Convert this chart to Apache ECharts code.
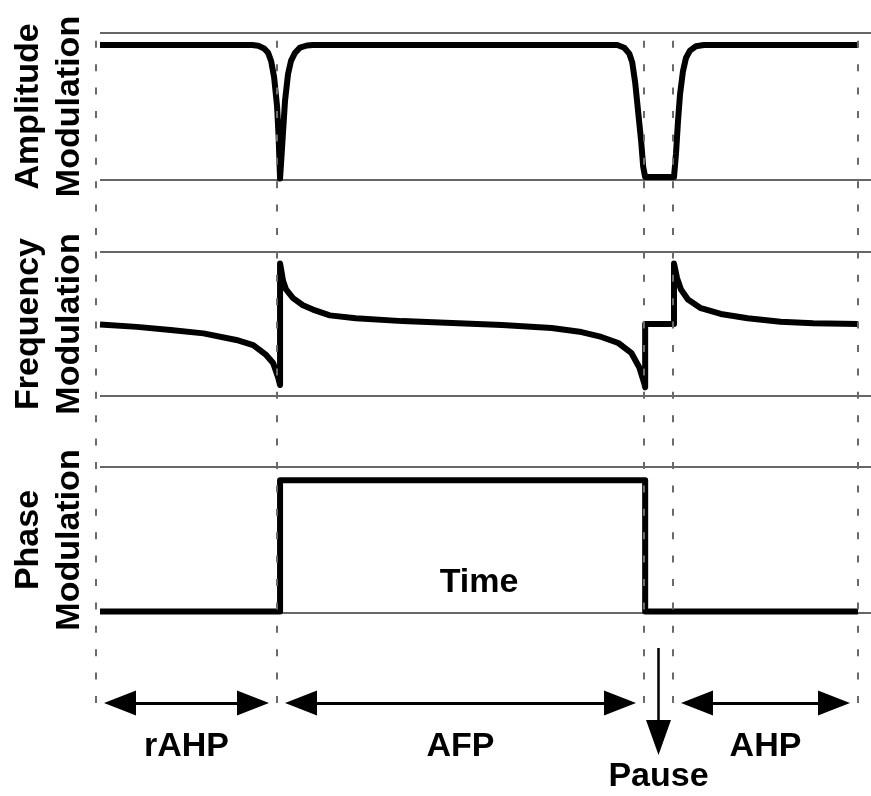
<!DOCTYPE html>
<html>
<head>
<meta charset="utf-8">
<script src="https://cdn.jsdelivr.net/npm/echarts@6/dist/echarts.min.js"></script>
<style>
html,body{margin:0;padding:0;background:#fff;}
#chart{width:871px;height:796px;}
</style>
</head>
<body>
<div id="chart"></div>
<script>
// ---- data (time in arbitrary units, modulation normalized 0..1) ----
const timeMax = 775;
const eventTimes = [0, 181, 548, 577, 762];
const panelNames = ['Amplitude\nModulation', 'Frequency\nModulation', 'Phase\nModulation'];
const timeTitle = 'Time';

const amplitude = [
  [0,0.918],[153,0.918],[159,0.913],[165,0.895],[169,0.865],[172,0.81],[175,0.70],[178,0.50],[179.5,0.30],[181,0.01],
  [183,0.22],[186,0.54],[189,0.72],[192,0.81],[196,0.865],[201,0.90],[208,0.915],[214,0.918],
  [520,0.918],[527,0.90],[532,0.86],[535,0.80],[538,0.66],[541,0.46],[544,0.26],[546,0.09],[548,0.02],
  [577,0.02],[579,0.18],[581,0.40],[583,0.58],[586,0.74],[589,0.83],[593,0.88],[599,0.91],[607,0.918],[762,0.918]
];

const frequency = [
  [0,0.497],[37,0.48],[71,0.458],[104,0.435],[137,0.389],[154,0.354],[167,0.285],[174,0.229],[179,0.13],[181,0.076],
  [181,0.92],[184,0.80],[187,0.74],[194,0.68],[204,0.63],[214,0.60],[231,0.56],[257,0.54],[304,0.52],[354,0.507],
  [404,0.493],[454,0.472],[484,0.444],[504,0.41],[521,0.368],[534,0.30],[542,0.20],[547,0.09],[548,0.06],
  [548,0.5],[577,0.5],
  [577,0.92],[580,0.82],[584,0.74],[591,0.67],[604,0.61],[624,0.57],[651,0.54],[684,0.515],[717,0.505],[762,0.5]
];

const phase = [
  [0,0.01],[181,0.01],[181,0.91],[548,0.91],[548,0.01],[762,0.01]
];

const spanLabels = ['rAHP', 'AFP', 'AHP'];
const spanStart = [0, 181, 577];
const spanEnd = [181, 548, 762];
const pauseLabel = 'Pause';
const pauseWindow = [548, 577];

// ---- layout / style ----
const FONT = '"Liberation Sans", Arial, Helvetica, sans-serif';
const LEFT = 96;
const panels = [
  {top: 33, height: 147},
  {top: 252, height: 144},
  {top: 467, height: 146}
];
// annotation layer: spans from top of first panel to bottom of canvas, y in px-like units from bottom
const BG = {top: 33, height: 763};
const ARROW_ROW = 93;      // level of the span arrows
const DASH_TOP = 763;      // dashed markers run from ARROW_ROW to DASH_TOP
const PAUSE_FROM = 148, PAUSE_TO = 58.5;
const ARROW_INSET = 24;

const grids = panels.map(p => ({left: LEFT, right: 0, top: p.top, height: p.height}));
grids.push({left: LEFT, right: 0, top: BG.top, height: BG.height});

const xAxes = grids.map((g, i) => ({
  gridIndex: i, type: 'value', min: 0, max: timeMax,
  axisLine: {show: false}, axisTick: {show: false}, axisLabel: {show: false}, splitLine: {show: false},
  name: i === 2 ? timeTitle : '',
  nameLocation: 'middle', nameGap: -47,
  nameTextStyle: {fontFamily: FONT, fontSize: 34, fontWeight: 'bold', color: '#000', padding: [0, 13, 0, 0]}
}));

const yAxes = panels.map((p, i) => ({
  gridIndex: i, type: 'value', min: 0, max: 1, interval: 1,
  axisLine: {show: false}, axisTick: {show: false}, axisLabel: {show: false},
  splitLine: {show: true, lineStyle: {color: '#333', width: 1.5}},
  name: panelNames[i], nameLocation: 'middle', nameRotate: 90, nameGap: 10,
  nameTextStyle: {fontFamily: FONT, fontSize: 34, fontWeight: 'bold', color: '#000', lineHeight: 41}
}));
yAxes.push({
  gridIndex: 3, type: 'value', min: 0, max: BG.height,
  axisLine: {show: false}, axisTick: {show: false}, axisLabel: {show: false}, splitLine: {show: false}
});

const curveStyle = {color: '#000', width: 6, join: 'round'};
function curve(data, idx) {
  return {
    type: 'line', data: data, xAxisIndex: idx, yAxisIndex: idx,
    showSymbol: false, symbol: 'none', clip: false, silent: true,
    lineStyle: curveStyle, z: 2
  };
}

const labelStyle = {fontFamily: FONT, fontSize: 34, fontWeight: 'bold', color: '#000'};
const pauseX = (pauseWindow[0] + pauseWindow[1]) / 2;

const series = [
  curve(amplitude, 0),
  curve(frequency, 1),
  curve(phase, 2),
  // dashed event markers
  {
    type: 'line', data: [], xAxisIndex: 3, yAxisIndex: 3, clip: false, silent: true,
    markLine: {
      silent: true, symbol: ['none', 'none'], animation: false, z: 10,
      label: {show: false},
      lineStyle: {color: '#6a6a6a', width: 2, type: [7, 16.4]},
      data: eventTimes.map(t => [{coord: [t, ARROW_ROW]}, {coord: [t, DASH_TOP]}])
    }
  },
  // double arrows with phase labels
  {
    type: 'line', data: [], xAxisIndex: 3, yAxisIndex: 3, clip: false, silent: true,
    markLine: {
      silent: true, symbol: ['triangle', 'triangle'], symbolSize: [25, 32], animation: false,
      lineStyle: {color: '#000', width: 3, type: 'solid'},
      label: Object.assign({show: true, position: 'insideMiddleBottom', distance: 27}, labelStyle),
      data: spanLabels.map((name, i) => [
        {coord: [spanStart[i] + ARROW_INSET, ARROW_ROW], name: name},
        {coord: [spanEnd[i] - ARROW_INSET, ARROW_ROW]}
      ])
    }
  },
  // pause arrow
  {
    type: 'line', data: [], xAxisIndex: 3, yAxisIndex: 3, clip: false, silent: true,
    markLine: {
      silent: true, symbol: ['none', 'triangle'], symbolSize: [25, 35], animation: false,
      lineStyle: {color: '#000', width: 2.5, type: 'solid'},
      label: Object.assign({show: true, position: 'end', distance: 22, formatter: pauseLabel}, labelStyle),
      data: [[
        {coord: [pauseX, PAUSE_FROM]},
        {coord: [pauseX, PAUSE_TO]}
      ]]
    }
  }
];

const chart = echarts.init(document.getElementById('chart'), null, {renderer: 'canvas'});
chart.setOption({
  animation: false,
  backgroundColor: '#fff',
  grid: grids,
  xAxis: xAxes,
  yAxis: yAxes,
  series: series
});
</script>
</body>
</html>
